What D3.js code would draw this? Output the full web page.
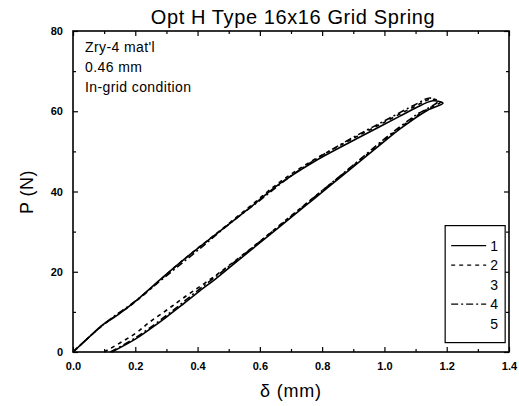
<!DOCTYPE html>
<html>
<head>
  <meta charset="utf-8">
  <title>Opt H Type 16x16 Grid Spring</title>
  <style>
    body { margin: 0; background: #fff; }
    svg { font-family: "Liberation Sans", Arial, sans-serif; }
    .tick text { font-size: 11px; font-weight: bold; }
    .series { fill: none; stroke: #000; stroke-width: 1.6; }
  </style>
</head>
<body>
  <div id="chart"></div>

  <script src="https://d3js.org/d3.v7.min.js"></script>

  <script>
    // deflection (mm) / load (N) pairs, one loop per test
    let run1_d = [0.125, 0.2, 0.247, 0.3, 0.353, 0.4, 0.462, 0.5, 0.568, 0.665, 0.771, 0.88, 0.986, 1.05, 1.137, 1.188,
                  1.156, 1.1, 1.05, 0.986, 0.88, 0.771, 0.665, 0.559, 0.45, 0.344, 0.279, 0.2, 0.145, 0.096, 0.05, 0.0];
    let run1_p = [0, 3.2, 5.7, 8.7, 11.9, 14.8, 18.5, 20.9, 25.2, 31.3, 38.0, 44.9, 51.6, 55.6, 60.2, 62,
                  62.6, 60.8, 58.8, 56.2, 51.9, 47.3, 42.0, 35.4, 28.8, 22.3, 18.0, 12.6, 9.3, 6.8, 3.6, 0];

    let run2_d = [0.1, 0.2, 0.247, 0.3, 0.353, 0.462, 0.568, 0.665, 0.771, 0.88, 0.986, 1.05, 1.137, 1.18,
                  1.15, 1.1, 0.986, 0.88, 0.771, 0.665, 0.559, 0.45, 0.344, 0.2, 0.096, 0.0];
    let run2_p = [0, 4.6, 7.5, 10.4, 13.4, 19.3, 25.6, 31.7, 38.4, 45.2, 51.9, 55.9, 60.5, 62.3,
                  63.0, 61.3, 56.7, 52.4, 47.8, 42.4, 35.7, 28.9, 22.3, 12.5, 6.7, 0];

    let run4_d = [0.12, 0.2, 0.3, 0.4, 0.5, 0.6, 0.7, 0.8, 0.9, 1.0, 1.1, 1.17,
                  1.146, 1.1, 1.0, 0.9, 0.8, 0.7, 0.6, 0.5, 0.4, 0.3, 0.2, 0.1, 0.0];
    let run4_p = [0, 3.5, 9.1, 15.3, 21.3, 27.5, 33.8, 40.2, 46.6, 53.1, 59.0, 62.4,
                  63.3, 61.7, 57.6, 53.5, 49.0, 43.9, 37.8, 31.8, 25.3, 19.0, 12.7, 7.0, 0];

    let legendLabels = ['1', '2', '3', '4', '5'];
    let legendDash = ['none', '4,4', null, '7,3,2,3', null];
    let notes = ["Zry-4 mat'l", '0.46 mm', 'In-grid condition'];

    let xTicks = [0, 0.2, 0.4, 0.6, 0.8, 1.0, 1.2, 1.4];
    let yTicks = [0, 20, 40, 60, 80];

    let margin = { top: 31, right: 10, bottom: 54, left: 73 },
      width = 519 - margin.left - margin.right,
      height = 406 - margin.top - margin.bottom;

    let svg = d3.select('#chart')
      .append('svg')
      .attr('width', 519)
      .attr('height', 406);

    let g = svg.append('g')
      .attr('transform', `translate(${margin.left}, ${margin.top})`);

    let x = d3.scaleLinear().domain([0, 1.4]).range([0, width]);
    let y = d3.scaleLinear().domain([0, 80]).range([height, 0]);

    // ticks point into the plot on all four sides
    function styleAxis(sel) {
      sel.select('.domain').remove();
      sel.selectAll('.tick line').attr('stroke', '#000').attr('stroke-width', 1.2);
    }

    g.append('g')
      .attr('transform', `translate(0, ${height})`)
      .call(d3.axisBottom(x).tickValues(xTicks).tickFormat(d3.format('.1f')).tickSize(-5).tickPadding(10))
      .call(styleAxis);
    g.append('g')
      .attr('transform', `translate(0, ${height})`)
      .call(d3.axisBottom(x).tickValues(d3.range(0.1, 1.4, 0.2)).tickFormat('').tickSize(-3))
      .call(styleAxis);
    g.append('g')
      .call(d3.axisTop(x).tickValues(xTicks).tickFormat('').tickSize(-5))
      .call(styleAxis);
    g.append('g')
      .call(d3.axisTop(x).tickValues(d3.range(0.1, 1.4, 0.2)).tickFormat('').tickSize(-3))
      .call(styleAxis);

    g.append('g')
      .call(d3.axisLeft(y).tickValues(yTicks).tickSize(-5).tickPadding(10))
      .call(styleAxis);
    g.append('g')
      .call(d3.axisLeft(y).tickValues([10, 30, 50, 70]).tickFormat('').tickSize(-3))
      .call(styleAxis);
    g.append('g')
      .attr('transform', `translate(${width}, 0)`)
      .call(d3.axisRight(y).tickValues(yTicks).tickFormat('').tickSize(-5))
      .call(styleAxis);
    g.append('g')
      .attr('transform', `translate(${width}, 0)`)
      .call(d3.axisRight(y).tickValues([10, 30, 50, 70]).tickFormat('').tickSize(-3))
      .call(styleAxis);

    g.append('rect')
      .attr('width', width)
      .attr('height', height)
      .attr('fill', 'none')
      .attr('stroke', '#000')
      .attr('stroke-width', 1.6);

    let line = d3.line()
      .x(d => x(d[0]))
      .y(d => y(d[1]))
      .curve(d3.curveCatmullRom);

    let runs = [
      { d: run1_d, p: run1_p, dash: 'none' },
      { d: run2_d, p: run2_p, dash: '4,4' },
      { d: run4_d, p: run4_p, dash: '7,3,2,3' }
    ];

    runs.forEach(r => {
      g.append('path')
        .datum(d3.zip(r.d, r.p))
        .attr('class', 'series')
        .attr('stroke-width', r.dash === 'none' ? 1.8 : 1.2)
        .attr('stroke-dasharray', r.dash)
        .attr('d', line);
    });

    // notes in the upper left
    g.selectAll('.note')
      .data(notes)
      .join('text')
      .attr('class', 'note')
      .attr('x', 12)
      .attr('y', (d, i) => 21 + i * 20)
      .attr('font-size', 14)
      .attr('letter-spacing', 0.4)
      .text(d => d);

    // legend box
    let legend = g.append('g')
      .attr('transform', `translate(${x(1.195)}, ${y(31.5)})`);
    legend.append('rect')
      .attr('width', 60)
      .attr('height', 117)
      .attr('fill', '#fff')
      .attr('stroke', '#000')
      .attr('stroke-width', 1.2);
    legendLabels.forEach((lab, i) => {
      let ly = 20 + i * 19.5;
      if (legendDash[i] !== null) {
        legend.append('line')
          .attr('x1', 6).attr('x2', 41)
          .attr('y1', ly).attr('y2', ly)
          .attr('stroke', '#000')
          .attr('stroke-width', 1.3)
          .attr('stroke-dasharray', legendDash[i]);
      }
      legend.append('text')
        .attr('x', 53)
        .attr('y', ly + 5)
        .attr('text-anchor', 'end')
        .attr('font-size', 14)
        .text(lab);
    });

    svg.append('text')
      .attr('x', 293)
      .attr('y', 24)
      .attr('text-anchor', 'middle')
      .attr('font-size', 20)
      .attr('letter-spacing', 0.6)
      .text('Opt H Type 16x16 Grid Spring');

    svg.append('text')
      .attr('x', 291)
      .attr('y', 397)
      .attr('text-anchor', 'middle')
      .attr('font-size', 18)
      .attr('letter-spacing', 0.8)
      .text('\u03b4 (mm)');

    svg.append('text')
      .attr('transform', `translate(33, 192) rotate(-90)`)
      .attr('text-anchor', 'middle')
      .attr('font-size', 18)
      .attr('letter-spacing', 0.5)
      .text('P (N)');
  </script>
</body>
</html>
